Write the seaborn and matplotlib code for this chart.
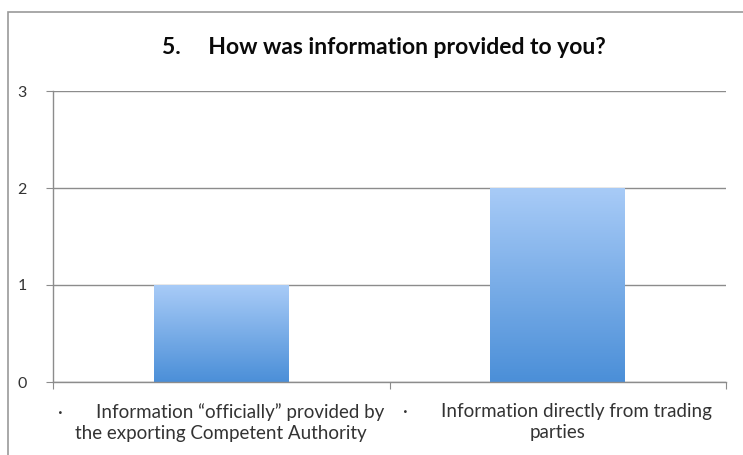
import numpy as np
import pandas as pd
import seaborn as sns
import matplotlib.pyplot as plt
from matplotlib.patches import Rectangle
from matplotlib.colors import LinearSegmentedColormap

categories = ["\u00b7       Information \u201cofficially\u201d provided by\nthe exporting Competent Authority",
              "\u00b7       Information directly from trading\nparties"]
counts = [1, 2]
title = "5.     How was information provided to you?"

df = pd.DataFrame({"category": categories, "count": counts})

sns.set_style("white")
plt.rcParams['font.family'] = ['Lato', 'DejaVu Sans']

fig = plt.figure(figsize=(7.43, 4.55), dpi=100)
ax = fig.add_axes([53 / 743, 1 - 382 / 455, (726 - 53) / 743, (382 - 91) / 455])

sns.barplot(data=df, x="category", y="count", ax=ax, width=0.4, color="#6fa8e8", saturation=1)

# vertical gradient inside each bar
cmap = LinearSegmentedColormap.from_list("bar", ["#4b8fd8", "#a8cbf7"])
grad = np.linspace(0, 1, 256).reshape(-1, 1)
for p in ax.patches:
    x0, y0 = p.get_x(), p.get_y()
    w, h = p.get_width(), p.get_height()
    im = ax.imshow(grad, cmap=cmap, aspect="auto", origin="lower",
                   extent=[x0, x0 + w, y0, y0 + h], zorder=p.get_zorder())
    im.set_clip_path(p)
    p.set_edgecolor("none")

ax.set_xlim(-0.5, 1.5)
ax.set_ylim(0, 3)
ax.set_yticks([0, 1, 2, 3])
ax.yaxis.grid(True, color="#8c8c8c", linewidth=1)
ax.set_axisbelow(True)
ax.set_xlabel("")
ax.set_ylabel("")

for s in ["top", "right"]:
    ax.spines[s].set_visible(False)
for s in ["left", "bottom"]:
    ax.spines[s].set_color("#8c8c8c")
    ax.spines[s].set_linewidth(1)

ax.set_xticks([-0.5, 0.5, 1.5])
ax.set_xticklabels(["", "", ""])
ax.set_xticks([0, 1], minor=True)
ax.set_xticklabels(categories, minor=True, fontsize=13.5, color="#333333", linespacing=1.3)
ax.tick_params(axis="x", which="major", length=5, color="#8c8c8c", direction="out", bottom=True)
ax.tick_params(axis="x", which="minor", length=0, pad=15)
ax.tick_params(axis="y", length=5, color="#8c8c8c", direction="out", left=True,
               labelsize=11.5, labelcolor="#333333", pad=14)

fig.text(384 / 743, 1 - 47 / 455, title, ha="center", va="center",
         fontsize=16.5, fontweight="bold", color="#0a0a0a")

fig.patches.append(Rectangle((8 / 743, -0.1), 1.2, 1 - 12 / 455 + 0.1, transform=fig.transFigure,
                             fill=False, edgecolor="#9a9a9a", linewidth=1.2))

fig.savefig("out.png", dpi=100)
